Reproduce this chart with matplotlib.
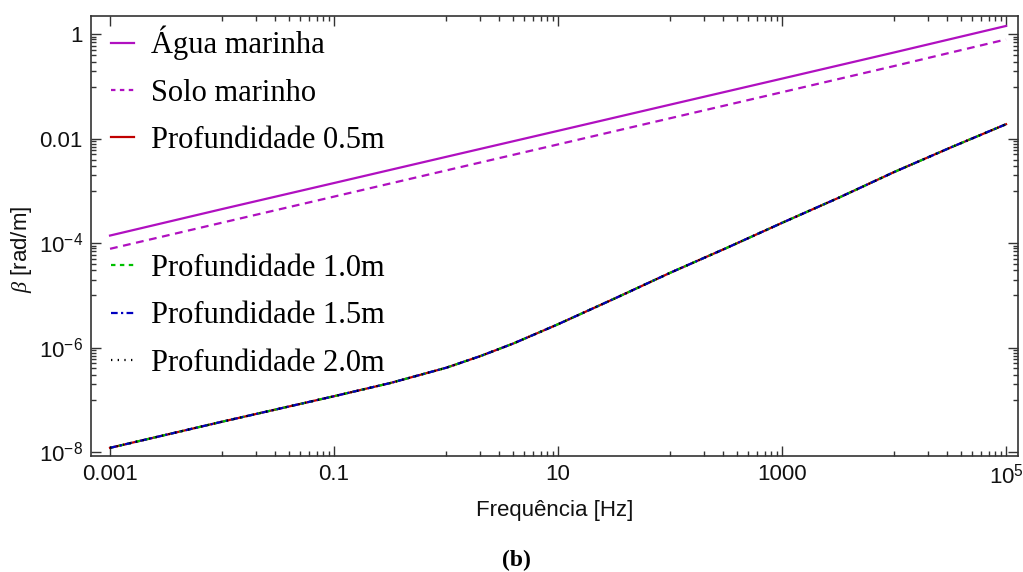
import numpy as np
import matplotlib
matplotlib.use("Agg")
import matplotlib.pyplot as plt
from matplotlib.lines import Line2D
from matplotlib.ticker import FixedLocator, FixedFormatter, NullFormatter

plt.rcParams['mathtext.fontset'] = 'custom'
plt.rcParams['mathtext.rm'] = 'Liberation Sans'
plt.rcParams['mathtext.it'] = 'Liberation Serif:italic'
plt.rcParams['mathtext.bf'] = 'Liberation Sans:bold'

# ---- data ----
freq_sea = [1e-3, 1e-2, 1e-1, 1e0, 1e1, 1e2, 1e3, 1e4, 1e5]
beta_agua = [1.4e-4, 4.5e-4, 1.42e-3, 4.5e-3, 1.42e-2, 4.5e-2, 0.142, 0.45, 1.45]
beta_solo = [7.8e-5, 2.47e-4, 7.8e-4, 2.47e-3, 7.8e-3, 2.47e-2, 7.8e-2, 0.247, 0.80]

freq_prof = [1e-3, 1e-2, 1e-1, 3.2e-1, 1e0, 2e0, 4e0, 1e1, 3.2e1, 1e2, 3.2e2,
             1e3, 3.2e3, 1e4, 3.2e4, 1e5]
beta_prof = [1.2e-8, 3.8e-8, 1.17e-7, 2.1e-7, 4.1e-7, 6.8e-7, 1.2e-6, 2.8e-6,
             8.7e-6, 2.7e-5, 8.1e-5, 2.45e-4, 7.4e-4, 2.3e-3, 6.8e-3, 1.9e-2]

x_major = [1e-3, 1e-1, 1e1, 1e3, 1e5]
x_labels = ['0.001', '0.1', '10', '1000', r'$10^{5}$']
y_major = [1e-8, 1e-6, 1e-4, 1e-2, 1e0]
y_labels = [r'$10^{-8}$', r'$10^{-6}$', r'$10^{-4}$', '0.01', '1']

labels_top = ['Água marinha', 'Solo marinho', 'Profundidade 0.5m']
labels_bot = ['Profundidade 1.0m', 'Profundidade 1.5m', 'Profundidade 2.0m']

# ---- styles ----
magenta = '#B010C0'
red = '#C00000'
green = '#00C000'
blue = '#0000C0'
black = '#000000'

fig = plt.figure(figsize=(10.23, 5.72), dpi=100)
ax = fig.add_axes([91/1023, 1-456/572, (1018-91)/1023, (456-16)/572])

lw = 1.6
ax.plot(freq_sea, beta_agua, color=magenta, lw=lw)
ax.plot(freq_sea, beta_solo, color=magenta, lw=lw, dashes=(3.5, 2.5))
ax.plot(freq_prof, beta_prof, color=red, lw=lw)
ax.plot(freq_prof, beta_prof, color=green, lw=lw, dashes=(2.0, 2.0))
ax.plot(freq_prof, beta_prof, color=blue, lw=lw, dashes=(3.0, 1.5, 1.0, 1.5))
ax.plot(freq_prof, beta_prof, color=black, lw=lw, dashes=(0.6, 2.4))

ax.set_xscale('log')
ax.set_yscale('log')
ax.set_xlim(10**-3.17, 10**5.107)
ax.set_ylim(10**-8.077, 10**0.352)

# Mathematica-style ticks
ax.xaxis.set_major_locator(FixedLocator(x_major))
ax.xaxis.set_major_formatter(FixedFormatter(x_labels))
xminor = [j * 10.0**e for e in (-2, 0, 2, 4) for j in range(1, 10)]
ax.xaxis.set_minor_locator(FixedLocator(xminor))
ax.xaxis.set_minor_formatter(NullFormatter())
ax.yaxis.set_major_locator(FixedLocator(y_major))
ax.yaxis.set_major_formatter(FixedFormatter(y_labels))
yminor = [j * 10.0**e for e in (-7, -5, -3, -1) for j in range(1, 10)]
ax.yaxis.set_minor_locator(FixedLocator(yminor))
ax.yaxis.set_minor_formatter(NullFormatter())

ax.tick_params(which='both', direction='in', top=True, right=True,
               colors='#333333', labelcolor='#111111', labelsize=16,
               width=1.0)
ax.tick_params(which='major', length=7, pad=6)
ax.tick_params(which='minor', length=3.5)
for lab in ax.get_xticklabels() + ax.get_yticklabels():
    lab.set_fontfamily('Liberation Sans')
for s in ax.spines.values():
    s.set_color('#333333')
    s.set_linewidth(1.2)

ax.set_xlabel('Frequência [Hz]', fontsize=16, family='Liberation Sans',
              color='#111111', labelpad=8)
ax.set_ylabel(r'$\beta$ [rad/m]', fontsize=16, family='Liberation Sans',
              color='#111111')
ax.yaxis.set_label_coords(-0.062, 0.47)

# legends
h_top = [Line2D([], [], color=magenta, lw=lw),
         Line2D([], [], color=magenta, lw=lw, dashes=(2.0, 2.0)),
         Line2D([], [], color=red, lw=lw)]
h_bot = [Line2D([], [], color=green, lw=lw, dashes=(2.0, 2.0)),
         Line2D([], [], color=blue, lw=lw, dashes=(3.0, 1.5, 1.0, 1.5)),
         Line2D([], [], color=black, lw=lw, dashes=(0.6, 2.4))]
legkw = dict(frameon=False, prop={'family': 'Liberation Serif', 'size': 22},
             handlelength=0.75, handletextpad=0.55, labelspacing=0.6,
             borderpad=0, borderaxespad=0, loc='upper left',
             bbox_transform=fig.transFigure)
leg1 = ax.legend(h_top, labels_top, bbox_to_anchor=(111/1023, 1-26/572), **legkw)
ax.add_artist(leg1)
leg2 = ax.legend(h_bot, labels_bot, bbox_to_anchor=(111/1023, 1-254/572), **legkw)

fig.text(516/1023, 1-560/572, '(b)', ha='center', va='center',
         fontsize=17, fontweight='bold', family='Liberation Serif')

fig.savefig('out.png', dpi=100)
